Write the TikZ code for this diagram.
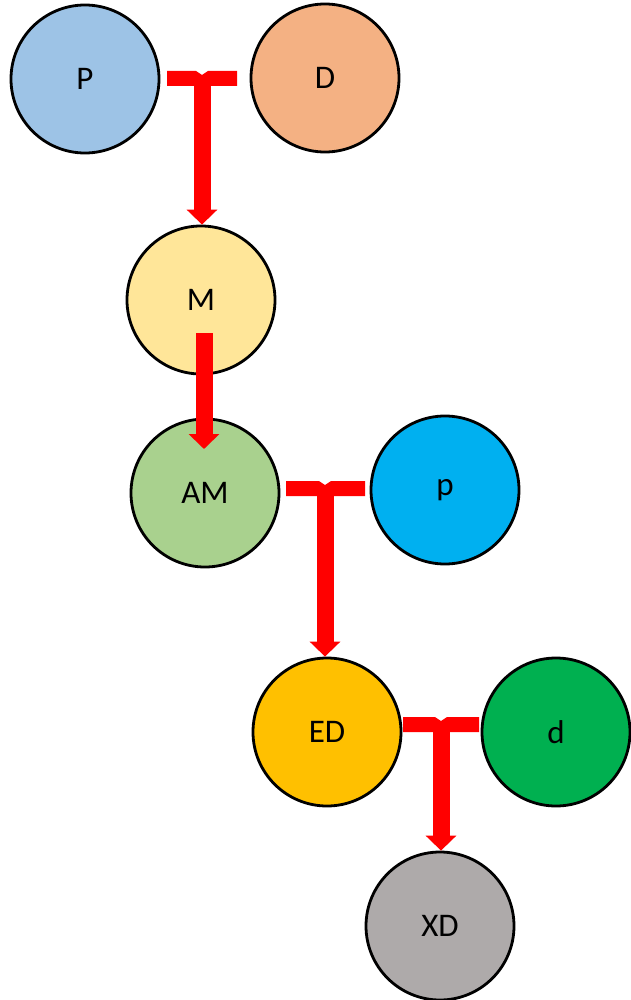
\documentclass[tikz,border=0pt]{standalone}
\usepackage{fontspec}
\setmainfont{Carlito}
\usetikzlibrary{arrows.meta,calc}
\definecolor{cP}{HTML}{9DC3E6}
\definecolor{cD}{HTML}{F4B183}
\definecolor{cM}{HTML}{FFE699}
\definecolor{cAM}{HTML}{A9D18E}
\definecolor{cp}{HTML}{00B0F0}
\definecolor{cED}{HTML}{FFC000}
\definecolor{cd}{HTML}{00B050}
\definecolor{cXD}{HTML}{AEAAAA}
\begin{document}
\begin{tikzpicture}[x=1pt,y=-1pt,
  circ/.style={circle,draw=black,line width=2.8pt,minimum size=148pt,inner sep=0pt,
    font=\fontsize{33}{40}\selectfont},
  redarrow/.style={draw=red,line width=17pt,-{Triangle[width=30pt,length=15pt]}},
  redbar/.style={fill=red,draw=none}]
\useasboundingbox (0,0) rectangle (630,1000);
% circles
\node[circ,fill=cP]  (P)  at (85,79)   {P};
\node[circ,fill=cD]  (D)  at (325,78)  {D};
\node[circ,fill=cM]  (M)  at (201,300) {M};
\node[circ,fill=cAM] (AM) at (205,493) {AM};
\node[circ,fill=cp]  (p)  at (445,490) {p};
\node[circ,fill=cED] (ED) at (327,732) {ED};
\node[circ,fill=cd]  (d)  at (556,732) {d};
\node[circ,fill=cXD] (XD) at (440,926) {XD};
% connector 1: P + D -> M
\fill[redbar] (167,71) -- (196,71) -- (202,75) -- (208,71) -- (237,71) -- (237,86) -- (167,86) -- cycle;
\coordinate (j1) at (202,80);
\draw[redarrow] (j1) -- (j1 |- M.north);
% connector 2: M -> AM
\coordinate (m1) at ($(M.center)+(3,33)$);
\draw[redarrow] (m1) -- (m1 |- {$(AM.center)+(0,-44)$});
% connector 3: AM + p -> ED
\fill[redbar] (286,481) -- (319,481) -- (325,485) -- (331,481) -- (365,481) -- (365,496) -- (286,496) -- cycle;
\coordinate (j3) at (325,490);
\draw[redarrow] (j3) -- (j3 |- ED.north);
% connector 4: ED + d -> XD
\fill[redbar] (403,717) -- (435,717) -- (441,721) -- (447,717) -- (479,717) -- (479,732) -- (403,732) -- cycle;
\coordinate (j4) at (441,726);
\draw[redarrow] (j4) -- (j4 |- XD.north);
\end{tikzpicture}
\end{document}
